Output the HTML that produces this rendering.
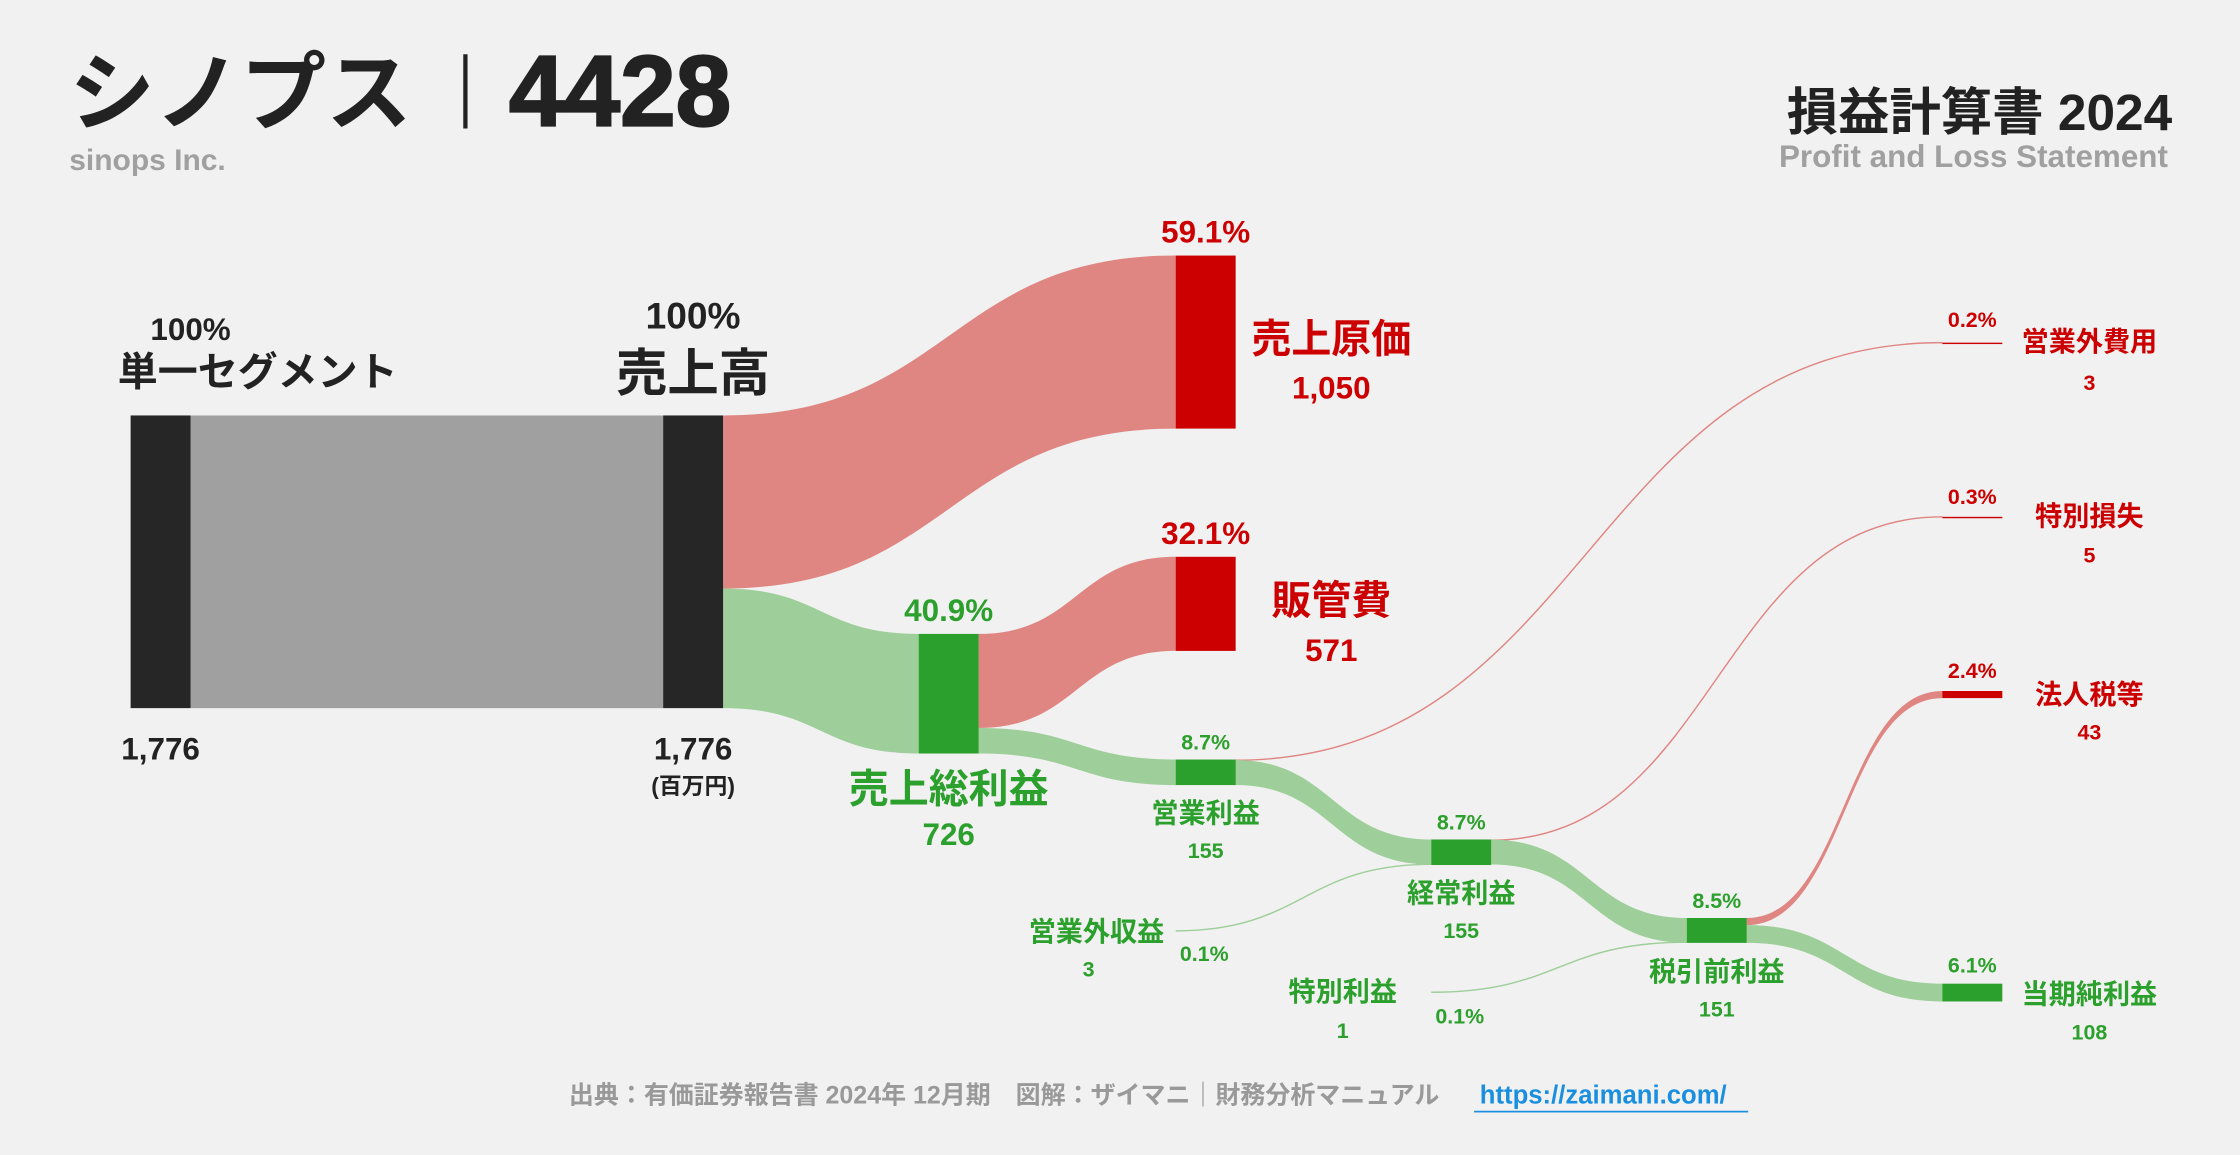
<!DOCTYPE html>
<html><head><meta charset="utf-8">
<style>
html,body{margin:0;padding:0;background:#f1f1f1;}
svg{display:block;font-family:"Liberation Sans","Noto Sans CJK JP",sans-serif;font-weight:bold;}
</style></head>
<body>
<svg id="chart" width="2240" height="1155" viewBox="0 0 1568 809" xmlns="http://www.w3.org/2000/svg">
<rect width="1568" height="809" fill="#f1f1f1"/>
<text x="48" y="86" font-size="60" fill="#222">シノプス</text>
<rect x="324" y="38" width="3" height="52" fill="#222"/>
<text x="356" y="88" font-size="70" fill="#222" stroke="#222" stroke-width="1.5" font-family="Liberation Sans, sans-serif">4428</text>
<text x="48" y="119" font-size="21" fill="#a0a0a0">sinops Inc.</text>
<text x="1521" y="91" font-size="36" fill="#222" text-anchor="end">損益計算書 2024</text>
<text x="1518" y="117" font-size="22" fill="#a0a0a0" text-anchor="end">Profit and Loss Statement</text>
<g id="flows"></g><g id="nodes"></g><g id="labels"></g>
<text x="398" y="773" font-size="17.5" fill="#999">出典：有価証券報告書 2024年 12月期　図解：ザイマニ｜財務分析マニュアル</text>
<text x="1036" y="773" font-size="18" fill="#1a8fe0">https://zaimani.com/</text>
<rect x="1032" y="778" width="192" height="1.2" fill="#1a8fe0"/>
</svg>
<script>
const nodeNames=["単一セグメント","売上高","売上原価","売上総利益","販管費","営業利益","営業外収益","営業外費用","経常利益","特別利益","特別損失","税引前利益","法人税等","当期純利益"];
const nodeValues=[1776,1776,1050,726,571,155,3,3,155,1,5,151,43,108];
const nodePercents=["100%","100%","59.1%","40.9%","32.1%","8.7%","0.1%","0.2%","8.7%","0.1%","0.3%","8.5%","2.4%","6.1%"];
const NS="http://www.w3.org/2000/svg";
const total=nodeValues[0];
const k=205/total;
const h=v=>Math.max(v*k,1);
const V={},P={};nodeNames.forEach((n,i)=>{V[n]=nodeValues[i];P[n]=nodePercents[i];});
const RED="#cc0000",GREEN="#2ca02c",REDF="#e08682",GREENF="#9ecf9a",GRAYF="#a0a0a0";
function mk(tag,attrs,parent){const e=document.createElementNS(NS,tag);for(const a in attrs)e.setAttribute(a,attrs[a]);document.getElementById(parent).appendChild(e);return e;}
function bar(x,y,v,color,name){const e=mk("rect",{x:x,y:y,width:42,height:h(v),fill:color},"nodes");

}
function band(x0,y0,x1,y1,v,color,name){const t=h(v),m=(x0+x1)/2;
const d=`M${x0},${y0} C${m},${y0} ${m},${y1} ${x1},${y1} L${x1},${y1+t} C${m},${y1+t} ${m},${y0+t} ${x0},${y0+t} Z`;
const e=mk("path",{d:d,fill:color},"flows");

}
function line(x0,y0,x1,y1,color,name){const m=(x0+x1)/2;
const e=mk("path",{d:`M${x0},${y0} C${m},${y0} ${m},${y1} ${x1},${y1}`,stroke:color,"stroke-width":1,fill:"none"},"flows");

}
function txt(x,y,s,size,color,name,anchor){const e=mk("text",{x:x,y:y,"font-size":size,fill:color,"text-anchor":anchor||"middle"},"labels");e.textContent=s;

}
const fmt=v=>v.toLocaleString("en-US");
const yTop=291;
const cogsY=179, sgaY=390, grossY=444, opY=532, ordY=588, preY=643, taxY=484, netY=689;
band(133,yTop,464,yTop,V["売上高"],GRAYF,"flow-segment-to-revenue");
band(506,yTop,823,cogsY,V["売上原価"],REDF,"flow-revenue-to-cogs");
band(506,yTop+h(V["売上原価"]),643,grossY,V["売上総利益"],GREENF,"flow-revenue-to-gross");
band(685,grossY,823,sgaY,V["販管費"],REDF,"flow-gross-to-sga");
band(685,grossY+h(V["販管費"]),823,opY,V["営業利益"],GREENF,"flow-gross-to-op");
line(864,opY+0.5,1360,240,REDF,"flow-op-to-nonop-expense");
band(864,opY+h(V["営業外費用"])*0.3,1002,ordY,V["営業利益"]-V["営業外費用"],GREENF,"flow-op-to-ordinary");
line(823,652,1002,ordY+h(V["経常利益"])-0.5,GREENF,"flow-nonop-income-to-ordinary");
line(1044,ordY+0.5,1360,362,REDF,"flow-ordinary-to-ext-loss");
band(1044,ordY+h(V["特別損失"])*0.2,1181,preY,V["経常利益"]-V["特別損失"],GREENF,"flow-ordinary-to-pretax");
line(1002,695,1181,preY+h(V["税引前利益"])-0.5,GREENF,"flow-ext-income-to-pretax");
band(1223,preY,1360,taxY,V["法人税等"],REDF,"flow-pretax-to-tax");
band(1223,preY+h(V["法人税等"]),1360,netY,V["当期純利益"],GREENF,"flow-pretax-to-net");
bar(91,yTop,V["単一セグメント"],"#262626","node-segment");
bar(464,yTop,V["売上高"],"#262626","node-revenue");
bar(823,cogsY,V["売上原価"],RED,"node-cogs");
bar(643,grossY,V["売上総利益"],GREEN,"node-gross-profit");
bar(823,sgaY,V["販管費"],RED,"node-sga");
bar(823,opY,V["営業利益"],GREEN,"node-op-profit");
bar(1002,ordY,V["経常利益"],GREEN,"node-ordinary-profit");
bar(1181,preY,V["税引前利益"],GREEN,"node-pretax-profit");
bar(1360,taxY,V["法人税等"],RED,"node-tax");
bar(1360,netY,V["当期純利益"],GREEN,"node-net-profit");
const ne=mk("rect",{x:1360,y:240,width:42,height:1,fill:RED},"nodes");


const nl=mk("rect",{x:1360,y:362,width:42,height:1,fill:RED},"nodes");


const D="#222";
txt(133,238,P["単一セグメント"],22,D,"segment-pct");
txt(180,270,"単一セグメント",28,D,"segment-label");
txt(112,532,fmt(V["単一セグメント"]),22,D,"segment-value");
txt(485,230,P["売上高"],26,D,"revenue-pct");
txt(485,274,"売上高",36,D,"revenue-label");
txt(485,532,fmt(V["売上高"]),22,D,"revenue-value");
txt(485,556,"(百万円)",16,D,"unit-label");
txt(844,170,P["売上原価"],22,RED,"cogs-pct");
txt(932,247,"売上原価",28,RED,"cogs-label");
txt(932,279,fmt(V["売上原価"]),22,RED,"cogs-value");
txt(844,381,P["販管費"],22,RED,"sga-pct");
txt(932,430,"販管費",28,RED,"sga-label");
txt(932,463,fmt(V["販管費"]),22,RED,"sga-value");
txt(664,435,P["売上総利益"],22,GREEN,"gross-pct");
txt(664,562,"売上総利益",28,GREEN,"gross-label");
txt(664,592,fmt(V["売上総利益"]),22,GREEN,"gross-value");
txt(844,525,P["営業利益"],15,GREEN,"op-pct");
txt(844,576,"営業利益",19,GREEN,"op-label");
txt(844,601,fmt(V["営業利益"]),15,GREEN,"op-value");
txt(1023,581,P["経常利益"],15,GREEN,"ordinary-pct");
txt(1023,632,"経常利益",19,GREEN,"ordinary-label");
txt(1023,657,fmt(V["経常利益"]),15,GREEN,"ordinary-value");
txt(1202,636,P["税引前利益"],15,GREEN,"pretax-pct");
txt(1202,687,"税引前利益",19,GREEN,"pretax-label");
txt(1202,712,fmt(V["税引前利益"]),15,GREEN,"pretax-value");
txt(815,659,"営業外収益",19,GREEN,"nonop-income-label","end");
txt(762,684,fmt(V["営業外収益"]),15,GREEN,"nonop-income-value");
txt(843,673,P["営業外収益"],15,GREEN,"nonop-income-pct");
txt(940,701,"特別利益",19,GREEN,"ext-income-label");
txt(940,727,fmt(V["特別利益"]),15,GREEN,"ext-income-value");
txt(1022,717,P["特別利益"],15,GREEN,"ext-income-pct");
txt(1381,229,P["営業外費用"],15,RED,"nonop-expense-pct");
txt(1463,246,"営業外費用",19,RED,"nonop-expense-label");
txt(1463,273,fmt(V["営業外費用"]),15,RED,"nonop-expense-value");
txt(1381,353,P["特別損失"],15,RED,"ext-loss-pct");
txt(1463,368,"特別損失",19,RED,"ext-loss-label");
txt(1463,394,fmt(V["特別損失"]),15,RED,"ext-loss-value");
txt(1381,475,P["法人税等"],15,RED,"tax-pct");
txt(1463,493,"法人税等",19,RED,"tax-label");
txt(1463,518,fmt(V["法人税等"]),15,RED,"tax-value");
txt(1381,681,P["当期純利益"],15,GREEN,"net-pct");
txt(1463,703,"当期純利益",19,GREEN,"net-label");
txt(1463,728,fmt(V["当期純利益"]),15,GREEN,"net-value");
</script>
</body></html>
